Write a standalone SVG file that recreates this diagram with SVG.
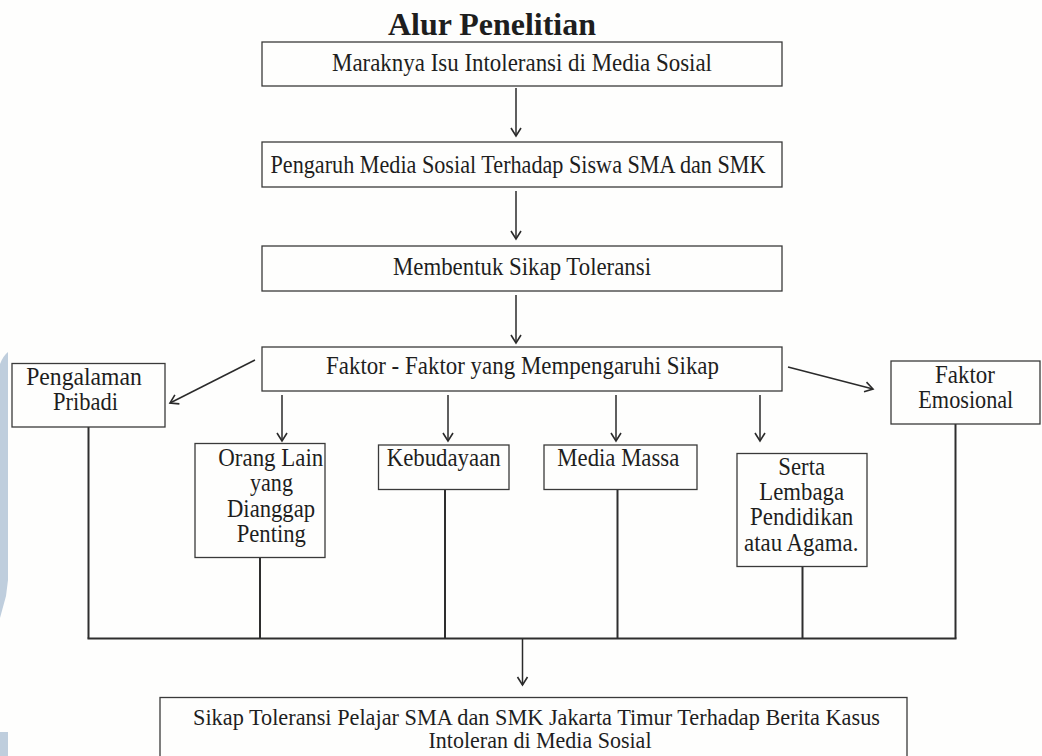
<svg xmlns="http://www.w3.org/2000/svg" width="1042" height="756" viewBox="0 0 1042 756">
<defs>
<style>
.bg{fill:#fefefd}
.box{fill:none;stroke:#3a3a3a;stroke-width:1.3}
.t{font-family:"Liberation Serif","Times New Roman",serif;font-size:25px;fill:#1e1e1e;text-anchor:middle}
.tb{font-size:23px}
.title{font-family:"Liberation Serif","Times New Roman",serif;font-size:32px;font-weight:bold;fill:#1e1e1e;text-anchor:middle}
.arr{fill:none;stroke:#2a2a2a;stroke-width:1.5;marker-end:url(#ah)}
.ln{fill:none;stroke:#2e2e2e;stroke-width:2}
.wm{fill:#bfcedd}
</style>
<marker id="ah" markerUnits="userSpaceOnUse" markerWidth="14" markerHeight="14" viewBox="0 0 14 14" refX="12" refY="7" orient="auto">
<path d="M4,2 L12,7 L4,12" fill="none" stroke="#2a2a2a" stroke-width="1.6"/>
</marker>
</defs>
<rect class="bg" x="0" y="0" width="1042" height="756"/>
<g id="watermark">
<path class="wm" d="M0,364 Q3,356 8,352 L8,580 L6,596 L0,618 Z"/>
<rect class="wm" x="0" y="732" width="8" height="24"/>
</g>
<text id="title" class="title" x="492" y="35" textLength="208" lengthAdjust="spacingAndGlyphs">Alur Penelitian</text>
<g id="connectors">
<line class="arr" x1="516" y1="88" x2="516" y2="136"/>
<line class="arr" x1="516" y1="191" x2="516" y2="239"/>
<line class="arr" x1="516" y1="295" x2="516" y2="343"/>
<line class="arr" x1="255" y1="360" x2="170" y2="403"/>
<line class="arr" x1="788" y1="367" x2="873" y2="389"/>
<line class="arr" x1="282" y1="395" x2="282" y2="441"/>
<line class="arr" x1="448" y1="395" x2="448" y2="441"/>
<line class="arr" x1="616" y1="395" x2="616" y2="441"/>
<line class="arr" x1="760" y1="395" x2="760" y2="441"/>
<line class="ln" x1="88.5" y1="427" x2="88.5" y2="638.5"/>
<line class="ln" x1="260" y1="558" x2="260" y2="638.5"/>
<line class="ln" x1="445" y1="489.5" x2="445" y2="638.5"/>
<line class="ln" x1="617.5" y1="489.5" x2="617.5" y2="638.5"/>
<line class="ln" x1="802.5" y1="567" x2="802.5" y2="638.5"/>
<line class="ln" x1="955.5" y1="424" x2="955.5" y2="638.5"/>
<line class="ln" x1="87.5" y1="638.5" x2="956.5" y2="638.5"/>
<line class="arr" x1="522.5" y1="639" x2="522.5" y2="685"/>
</g>
<g id="n1">
<rect class="box" x="262" y="42" width="520" height="44"/>
<text class="t" x="522" y="71" textLength="380" lengthAdjust="spacingAndGlyphs">Maraknya Isu Intoleransi di Media Sosial</text>
</g>
<g id="n2">
<rect class="box" x="262" y="142" width="520" height="45"/>
<text class="t" x="518" y="173" textLength="495" lengthAdjust="spacingAndGlyphs">Pengaruh Media Sosial Terhadap Siswa SMA dan SMK</text>
</g>
<g id="n3">
<rect class="box" x="262" y="246" width="520" height="45"/>
<text class="t" x="522" y="275" textLength="258" lengthAdjust="spacingAndGlyphs">Membentuk Sikap Toleransi</text>
</g>
<g id="n4">
<rect class="box" x="262" y="347" width="520" height="44"/>
<text class="t" x="522.5" y="374" textLength="393" lengthAdjust="spacingAndGlyphs">Faktor - Faktor yang Mempengaruhi Sikap</text>
</g>
<g id="n5">
<rect class="box" x="12" y="363.5" width="153" height="63.5"/>
<text class="t" x="84" y="385" textLength="115.7" lengthAdjust="spacingAndGlyphs">Pengalaman</text>
<text class="t" x="85.5" y="410" textLength="65" lengthAdjust="spacingAndGlyphs">Pribadi</text>
</g>
<g id="n6">
<rect class="box" x="891" y="361" width="149" height="63"/>
<text class="t" x="965" y="383" textLength="60" lengthAdjust="spacingAndGlyphs">Faktor</text>
<text class="t" x="965.8" y="408" textLength="95" lengthAdjust="spacingAndGlyphs">Emosional</text>
</g>
<g id="n7">
<rect class="box" x="195" y="443.5" width="130" height="114"/>
<text class="t" x="270.8" y="466" textLength="105" lengthAdjust="spacingAndGlyphs">Orang Lain</text>
<text class="t" x="271.5" y="491" textLength="43" lengthAdjust="spacingAndGlyphs">yang</text>
<text class="t" x="271" y="516.5" textLength="88" lengthAdjust="spacingAndGlyphs">Dianggap</text>
<text class="t" x="271.3" y="541.5" textLength="69.3" lengthAdjust="spacingAndGlyphs">Penting</text>
</g>
<g id="n8">
<rect class="box" x="378.5" y="445" width="130.5" height="44.5"/>
<text class="t" x="443.7" y="466" textLength="114" lengthAdjust="spacingAndGlyphs">Kebudayaan</text>
</g>
<g id="n9">
<rect class="box" x="544" y="445" width="153" height="44.5"/>
<text class="t" x="618.3" y="466" textLength="122" lengthAdjust="spacingAndGlyphs">Media Massa</text>
</g>
<g id="n10">
<rect class="box" x="737" y="453.5" width="130" height="113"/>
<text class="t" x="801.7" y="474.5" textLength="46.7" lengthAdjust="spacingAndGlyphs">Serta</text>
<text class="t" x="801.7" y="499.5" textLength="84.7" lengthAdjust="spacingAndGlyphs">Lembaga</text>
<text class="t" x="801.7" y="525" textLength="103.3" lengthAdjust="spacingAndGlyphs">Pendidikan</text>
<text class="t" x="801.2" y="550.5" textLength="114.3" lengthAdjust="spacingAndGlyphs">atau Agama.</text>
</g>
<g id="n11">
<rect class="box" x="160" y="697.5" width="747" height="70"/>
<text class="t tb" x="536.5" y="724.5" textLength="687" lengthAdjust="spacingAndGlyphs">Sikap Toleransi Pelajar SMA dan SMK Jakarta Timur Terhadap Berita Kasus</text>
<text class="t tb" x="540" y="748" textLength="223" lengthAdjust="spacingAndGlyphs">Intoleran di Media Sosial</text>
</g>
</svg>
